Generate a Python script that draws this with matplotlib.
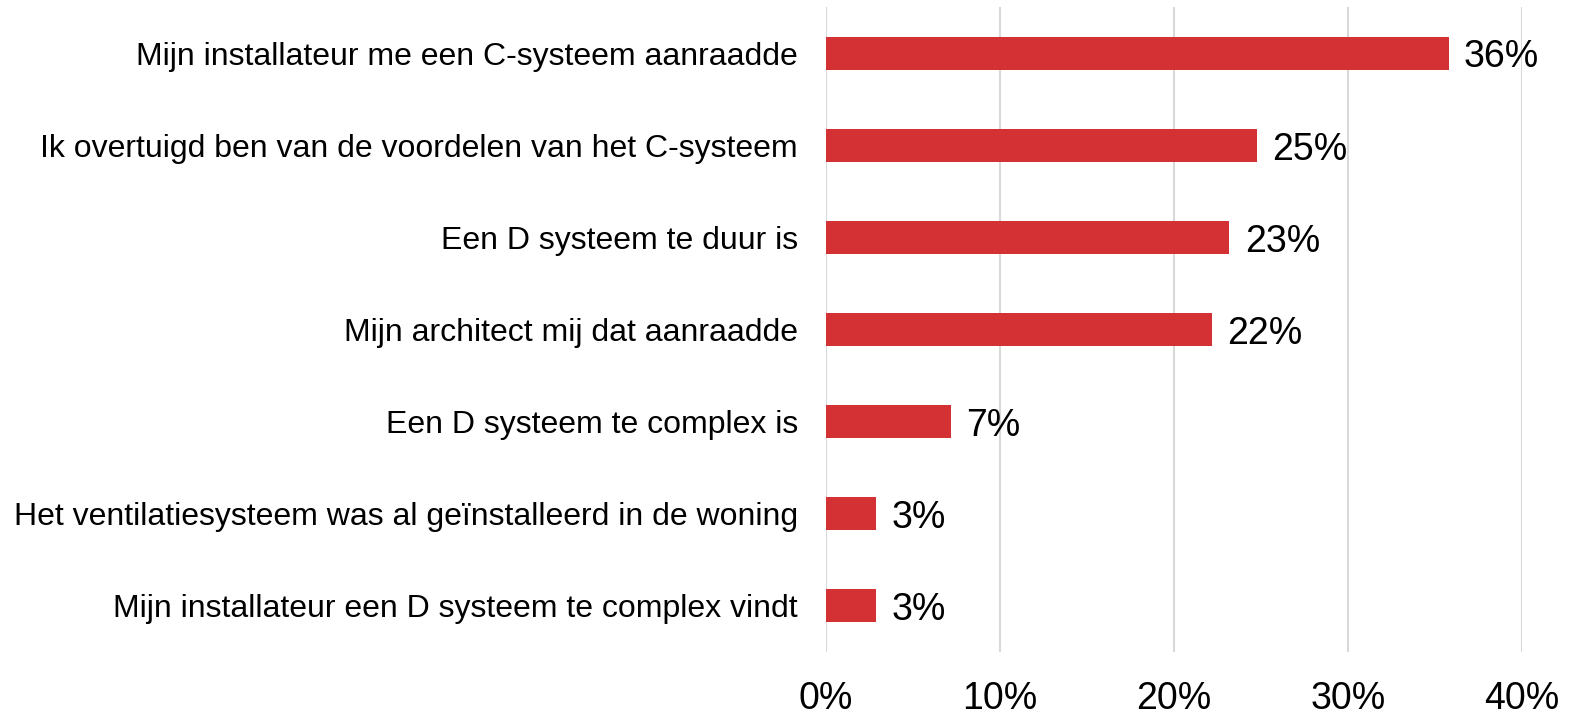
import matplotlib
matplotlib.use("Agg")
import matplotlib.pyplot as plt
from matplotlib.ticker import FuncFormatter

plt.rcParams['font.family'] = ['Liberation Sans', 'DejaVu Sans']

categories = [
    "Mijn installateur me een C-systeem aanraadde",
    "Ik overtuigd ben van de voordelen van het C-systeem",
    "Een D systeem te duur is",
    "Mijn architect mij dat aanraadde",
    "Een D systeem te complex is",
    "Het ventilatiesysteem was al geïnstalleerd in de woning",
    "Mijn installateur een D systeem te complex vindt",
]
values = [35.8, 24.8, 23.2, 22.2, 7.2, 2.9, 2.9]
xticks = [0, 10, 20, 30, 40]

bar_color = "#D33133"
grid_color = "#D9D9D9"

fig = plt.figure(figsize=(15.74, 7.14), dpi=100)
ax = fig.add_axes([0.5246, 0.0873, 0.9668 - 0.5246, 0.9898 - 0.0873])

pos = list(range(len(categories)))
ax.barh(pos, values, height=0.36, color=bar_color, zorder=3)

for p, v in zip(pos, values):
    ax.annotate("%.0f%%" % v, xy=(v, p), xytext=(11, -3), textcoords="offset points",
                va="center", ha="left", fontsize=27, color="black")

ax.set_xlim(0, 40)
ax.set_ylim(len(categories) - 0.5, -0.5)
ax.set_xticks(xticks)
ax.xaxis.set_major_formatter(FuncFormatter(lambda x, _: "%d%%" % x))
ax.set_yticks(pos)
ax.set_yticklabels(categories)
ax.tick_params(axis="x", length=0, pad=21, labelsize=27)
ax.tick_params(axis="y", length=0, pad=20, labelsize=23)

ax.grid(axis="x", color=grid_color, linewidth=1.5, zorder=0)
for s in ax.spines.values():
    s.set_visible(False)

fig.savefig("out.png", dpi=100)
